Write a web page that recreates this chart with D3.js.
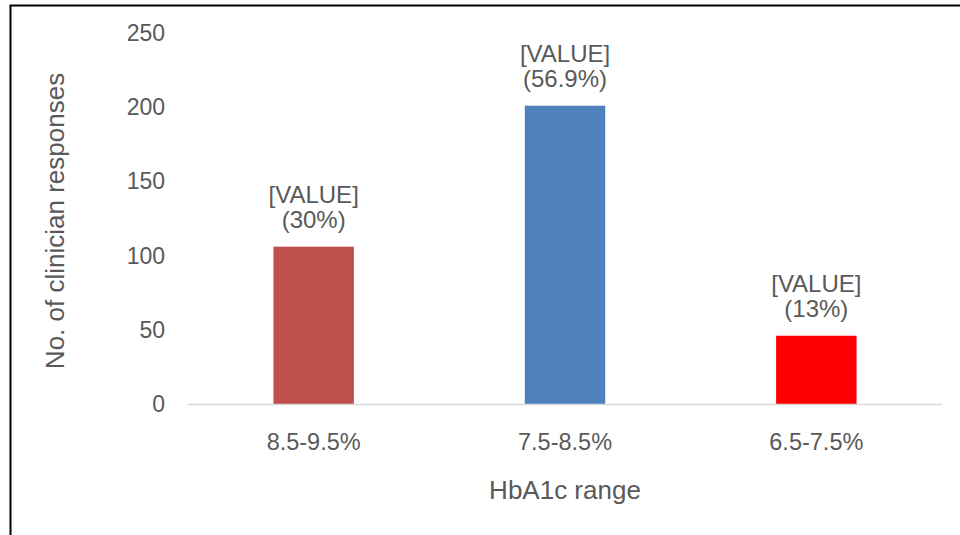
<!DOCTYPE html>
<html>
<head>
<meta charset="utf-8">
<script src="https://cdn.jsdelivr.net/npm/d3@7"></script>
<style>
  body { margin: 0; background: #fff; }
  text { font-family: "Liberation Sans", Arial, sans-serif; fill: #595959; }
</style>
</head>
<body>
<script>
// chart data
const ranges = ['8.5-9.5%', '7.5-8.5%', '6.5-7.5%']
const responses = [106, 201, 46]
const shares = ['30%', '56.9%', '13%']
const barColors = ['#C0504D', '#4F81BD', '#FF0000']
const yTicks = [0, 50, 100, 150, 200, 250]

const width = 960
const height = 535
const margin = { top: 33, right: 18, bottom: 131, left: 188 }

const svg = d3.select('body').append('svg')
  .attr('width', width)
  .attr('height', height)

// outer frame (left and top edges only visible)
svg.append('path')
  .attr('d', 'M10.5,535 V5.5 H960')
  .attr('fill', 'none')
  .attr('stroke', '#000')
  .attr('stroke-width', 2)

const x = d3.scaleBand()
  .domain(ranges)
  .range([margin.left, width - margin.right])
  .paddingInner(0.68)
  .paddingOuter(0.34)

const y = d3.scaleLinear()
  .domain([0, 250])
  .range([height - margin.bottom, margin.top])

// y tick labels
svg.append('g')
  .selectAll('text')
  .data(yTicks)
  .join('text')
  .attr('x', 165)
  .attr('y', d => y(d))
  .attr('dy', '0.35em')
  .attr('text-anchor', 'end')
  .style('font-size', '23px')
  .text(d => d)

// bars
svg.append('g')
  .selectAll('rect')
  .data(responses)
  .join('rect')
  .attr('x', (d, i) => x(ranges[i]))
  .attr('y', d => y(d))
  .attr('width', x.bandwidth())
  .attr('height', d => y(0) - y(d))
  .attr('fill', (d, i) => barColors[i])

// baseline
svg.append('line')
  .attr('x1', margin.left)
  .attr('x2', width - margin.right)
  .attr('y1', y(0) + 0.5)
  .attr('y2', y(0) + 0.5)
  .attr('stroke', '#d9d9d9')
  .attr('stroke-width', 1.5)

// data labels
const labels = svg.append('g')
  .selectAll('g')
  .data(responses)
  .join('g')
  .attr('transform', (d, i) => `translate(${x(ranges[i]) + x.bandwidth() / 2},${y(d)})`)

labels.append('text')
  .attr('y', -44)
  .attr('text-anchor', 'middle')
  .style('font-size', '24px')
  .text('[VALUE]')

labels.append('text')
  .attr('y', -19)
  .attr('text-anchor', 'middle')
  .style('font-size', '24px')
  .text((d, i) => `(${shares[i]})`)

// category labels
svg.append('g')
  .selectAll('text')
  .data(ranges)
  .join('text')
  .attr('x', d => x(d) + x.bandwidth() / 2)
  .attr('y', 450)
  .attr('text-anchor', 'middle')
  .style('font-size', '23.5px')
  .text(d => d)

// axis titles
svg.append('text')
  .attr('x', 565)
  .attr('y', 499)
  .attr('text-anchor', 'middle')
  .style('font-size', '26px')
  .text('HbA1c range')

svg.append('text')
  .attr('transform', 'translate(64,221) rotate(-90)')
  .attr('text-anchor', 'middle')
  .style('font-size', '26px')
  .text('No. of clinician responses')
</script>
</body>
</html>
